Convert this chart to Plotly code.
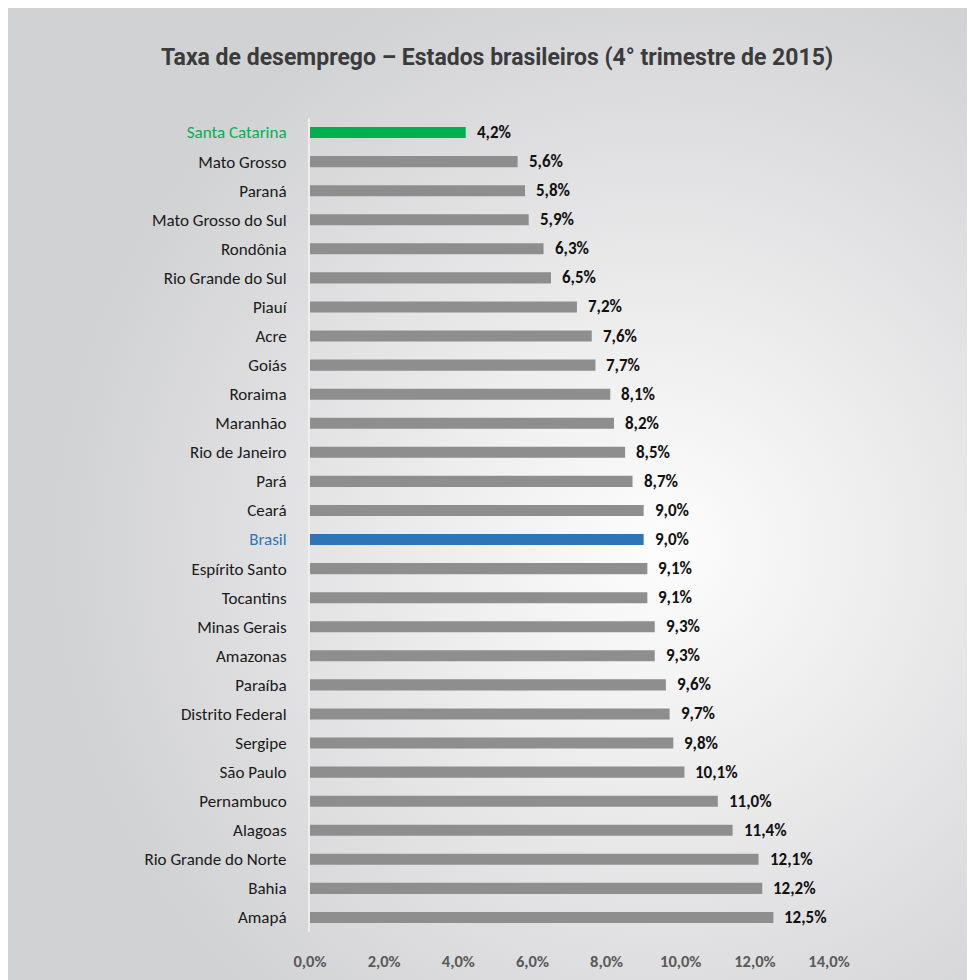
import base64
import plotly.graph_objects as go

states = ["Santa Catarina", "Mato Grosso", "Paraná", "Mato Grosso do Sul", "Rondônia",
          "Rio Grande do Sul", "Piauí", "Acre", "Goiás", "Roraima", "Maranhão",
          "Rio de Janeiro", "Pará", "Ceará", "Brasil", "Espírito Santo", "Tocantins",
          "Minas Gerais", "Amazonas", "Paraíba", "Distrito Federal", "Sergipe",
          "São Paulo", "Pernambuco", "Alagoas", "Rio Grande do Norte", "Bahia", "Amapá"]
rates = [4.2, 5.6, 5.8, 5.9, 6.3, 6.5, 7.2, 7.6, 7.7, 8.1, 8.2, 8.5, 8.7, 9.0, 9.0,
         9.1, 9.1, 9.3, 9.3, 9.6, 9.7, 9.8, 10.1, 11.0, 11.4, 12.1, 12.2, 12.5]
x_ticks = [0, 2, 4, 6, 8, 10, 12, 14]
x_tick_labels = ["0,0%", "2,0%", "4,0%", "6,0%", "8,0%", "10,0%", "12,0%", "14,0%"]

GRAY = "#8e8e8e"
GREEN = "#00b050"
BLUE = "#2e75b6"
FONT = "Carlito, Lato, sans-serif"

def bar_color(s):
    if s == "Santa Catarina":
        return GREEN
    if s == "Brasil":
        return BLUE
    return GRAY

def label_color(s):
    if s == "Santa Catarina":
        return GREEN
    if s == "Brasil":
        return BLUE
    return "#1a1a1a"

W, H = 975, 980
ML, MR, MT, MB = 302, 154, 110, 56
pw = W - ML - MR
ph = H - MT - MB

svg = f'''<svg xmlns="http://www.w3.org/2000/svg" width="{W}" height="{H}" viewBox="0 0 {W} {H}" preserveAspectRatio="none">
<defs><radialGradient id="g" cx="0.67" cy="0.55" r="0.62" fx="0.67" fy="0.55">
<stop offset="0" stop-color="#fdfdfd"/>
<stop offset="0.35" stop-color="#eeeeef"/>
<stop offset="0.75" stop-color="#dcdcde"/>
<stop offset="1" stop-color="#d1d2d4"/>
</radialGradient></defs>
<rect x="0" y="0" width="{W}" height="{H}" fill="url(#g)"/></svg>'''
src = "data:image/svg+xml;base64," + base64.b64encode(svg.encode()).decode()

fig = go.Figure()
fig.add_trace(go.Bar(
    x=rates, y=states, orientation="h",
    marker=dict(color=[bar_color(s) for s in states], line=dict(width=0)),
    width=0.38, hoverinfo="x+y",
))

for s, v in zip(states, rates):
    fig.add_annotation(
        x=v, y=s, xref="x", yref="y",
        text=f"<b>{v:.1f}%</b>".replace(".", ","),
        showarrow=False, xanchor="left", yanchor="middle", xshift=9,
        font=dict(family=FONT, size=17, color="#111111"),
    )

fig.add_layout_image(dict(
    source=src, xref="paper", yref="paper",
    x=-ML / pw, y=1 + MT / ph,
    sizex=W / pw, sizey=H / ph,
    xanchor="left", yanchor="top", sizing="stretch", layer="below",
))

fig.update_layout(
    width=W, height=H,
    margin=dict(l=ML, r=MR, t=MT, b=MB, pad=0),
    paper_bgcolor="#d5d6d8",
    plot_bgcolor="rgba(0,0,0,0)",
    showlegend=False,
    title=dict(
        text="<b>Taxa de desemprego – Estados brasileiros (4° trimestre de 2015)</b>",
        x=489 / W, xanchor="center", y=1 - 49 / H, yanchor="middle",
        font=dict(family="Liberation Sans Narrow, Arial Narrow, Roboto, sans-serif", size=23, color="#3b3b3b"),
    ),
    xaxis=dict(
        range=[0, 14], tickvals=x_ticks, ticktext=[f"<b>{t}</b>" for t in x_tick_labels],
        showgrid=False, zeroline=False, showline=False,
        ticks="outside", ticklen=14, tickcolor="rgba(0,0,0,0)",
        tickfont=dict(family=FONT, size=16.5, color="#595959"),
        fixedrange=True,
    ),
    yaxis=dict(
        range=[len(states) - 0.5, -0.5],
        tickvals=states,
        ticktext=[f"<span style='color:{label_color(s)}'>{s}</span>" for s in states],
        showgrid=False, zeroline=False,
        showline=True, linecolor="#eeeeee", linewidth=2,
        ticks="outside", ticklen=18, tickcolor="rgba(0,0,0,0)",
        tickfont=dict(family=FONT, size=17, color="#1a1a1a"),
        fixedrange=True,
    ),
)

fig.write_html("out.html")
